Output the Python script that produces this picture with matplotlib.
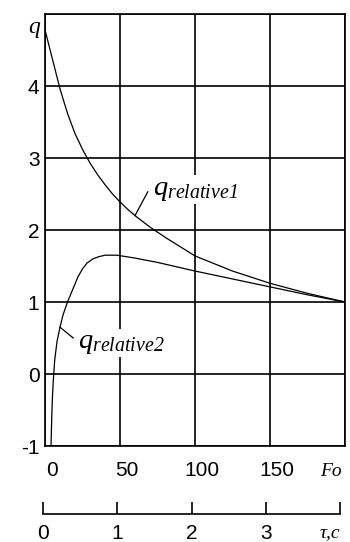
import matplotlib
matplotlib.use("Agg")
import matplotlib.pyplot as plt
import matplotlib.transforms as mtransforms

plt.rcParams['font.family'] = ['Liberation Sans Narrow', 'Liberation Sans', 'DejaVu Sans']
plt.rcParams['mathtext.fontset'] = 'custom'
plt.rcParams['mathtext.it'] = 'Liberation Serif:italic'
plt.rcParams['mathtext.rm'] = 'Liberation Serif:italic'

# Fourier number and relative heat flux curves
fo1 = [0, 5, 10, 15, 20, 25, 30, 35, 40, 45, 50, 55, 60, 70, 80, 90, 100, 125, 150, 175, 200]
q_rel1 = [4.78, 4.37, 3.96, 3.62, 3.34, 3.12, 2.93, 2.77, 2.63, 2.5, 2.39, 2.29, 2.2,
          2.04, 1.9, 1.77, 1.64, 1.43, 1.26, 1.12, 1.0]

fo2 = [4, 4.5, 5, 5.5, 6.5, 8, 10, 12, 15, 17, 19, 22, 25, 28, 32, 36, 40, 48, 60, 75,
       100, 125, 150, 175, 200]
q_rel2 = [-1, -0.6, -0.3, -0.1, 0.2, 0.45, 0.65, 0.82, 1.0, 1.1, 1.2, 1.35, 1.46, 1.54,
          1.6, 1.63, 1.65, 1.65, 1.61, 1.55, 1.43, 1.32, 1.21, 1.1, 1.0]

fo_ticks = [0, 50, 100, 150, 200]
fo_labels = ['0', '50', '100', '150', '']
q_ticks = [-1, 0, 1, 2, 3, 4, 5]
q_labels = ['-1', '0', '1', '2', '3', '4', '']
tau_ticks = [0, 1, 2, 3, 4]
tau_labels = ['0', '1', '2', '3', '']

fig = plt.figure(figsize=(3.5, 5.42), dpi=100)
ax = fig.add_axes([45 / 350, 1 - 446 / 542, 300 / 350, 432 / 542])

ax.plot(fo1, q_rel1, color='black', lw=0.9)
ax.plot(fo2, q_rel2, color='black', lw=0.9)

ax.set_xlim(0, 200)
ax.set_ylim(-1, 5)
ax.set_xticks(fo_ticks)
ax.set_xticklabels(fo_labels)
ax.set_yticks(q_ticks)
ax.set_yticklabels(q_labels)
ax.grid(True, color='black', lw=1.2)
for s in ax.spines.values():
    s.set_linewidth(1.2)
ax.tick_params(length=0, labelsize=15, colors='black')
ax.tick_params(axis='x', pad=11)
ax.tick_params(axis='y', pad=4)

# shift Fo tick labels a little to the right of their grid lines
shift = mtransforms.ScaledTranslation(7 / 100, 0, fig.dpi_scale_trans)
for lab in ax.get_xticklabels():
    lab.set_transform(lab.get_transform() + shift)

# curve labels with leader lines
white = dict(facecolor='white', edgecolor='none', pad=1)
ax.text(72, 2.56, r'$q_{relative1}$', fontsize=20.5, ha='left', va='center', bbox=white)
ax.plot([fo1[12], 68.5], [q_rel1[12], 2.53], color='black', lw=0.9)
ax.text(22, 0.43, r'$q_{relative2}$', fontsize=20.5, ha='left', va='center', bbox=white)
ax.plot([fo2[6], 18.8], [q_rel2[6], 0.5], color='black', lw=0.9)

fig.text(34 / 350, 1 - 28 / 542, 'q', fontsize=17, family='Liberation Serif',
         style='italic', ha='center', va='center')
fig.text(331 / 350, 1 - 472 / 542, 'Fo', fontsize=14, family='Liberation Serif',
         style='italic', ha='center', va='center')

# time scale in seconds below the Fo axis
tax = fig.add_axes([43 / 350, 1 - 514 / 542, 297 / 350, 0.001])
tax.set_xlim(0, 4)
tax.set_ylim(0, 1)
for side in ['top', 'left', 'right']:
    tax.spines[side].set_visible(False)
tax.spines['bottom'].set_linewidth(1.2)
tax.set_yticks([])
tax.set_xticks(tau_ticks)
tax.set_xticklabels(tau_labels)
tax.tick_params(axis='x', direction='in', length=8.5, width=1.2, labelsize=15, pad=7)
tax.patch.set_visible(False)
fig.text(330 / 350, 1 - 533 / 542, 'τ,c', fontsize=14, family='Liberation Serif',
         style='italic', ha='center', va='center')

fig.savefig('out.png', dpi=100, facecolor='white')
